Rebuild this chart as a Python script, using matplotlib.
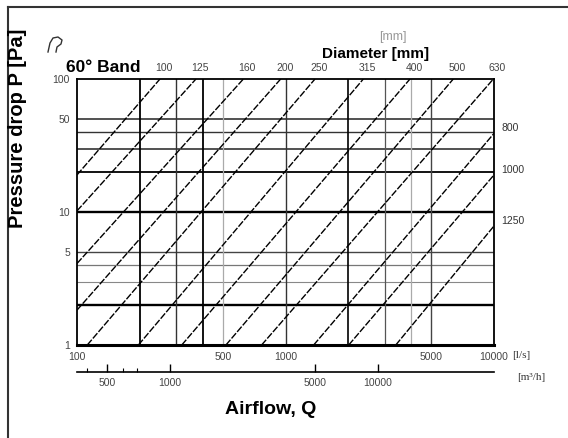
import matplotlib
matplotlib.use("Agg")
import matplotlib.pyplot as plt
from matplotlib.lines import Line2D

W, H = 568, 438
SANS = ["Liberation Sans", "DejaVu Sans"]
SERIF = ["Liberation Serif", "DejaVu Serif"]

diameters = [100, 125, 160, 200, 250, 315, 400, 500, 630, 800, 1000, 1250]
q_start = [100, 100, 100, 100, 112, 197, 318, 518, 768, 1365, 2010, 3380]   # l/s
p_start = [19, 10.2, 4.1, 1.83, 1, 1, 1, 1, 1, 1, 1, 1]                     # Pa
q_end = [250, 372, 628, 948, 1385, 2362, 3954, 6379, 9930, 10000, 10000, 10000]
p_end = [100, 100, 100, 100, 100, 100, 100, 100, 100, 39, 19, 7.85]

# grid lines of the nomogram
h_vals = [2, 3, 4, 5, 10, 20, 30, 40, 50]
h_lw = [1.7, 0.8, 0.9, 1.0, 1.7, 1.3, 1.1, 1.0, 1.2]
h_col = ["black", "#888", "#777", "#444", "black", "black", "#222", "#333", "#333"]
v_vals = [200, 300, 400, 500, 1000, 2000, 3000, 4000, 5000]
v_lw = [1.3, 1.0, 1.3, 0.9, 1.0, 1.2, 0.9, 0.9, 1.0]
v_col = ["black", "#333", "black", "#aaa", "#333", "black", "#555", "#aaa", "#444"]

x_ticks = [100, 500, 1000, 5000, 10000]
y_ticks = [1, 5, 10, 50, 100]
m3h_major = [500, 1000, 5000, 10000]
m3h_minor = [400, 600, 700]


def fx(px):
    return px / W


def fy(py):
    return 1 - py / H


fig = plt.figure(figsize=(W / 100, H / 100), dpi=100)
ax = fig.add_axes([fx(77), fy(345), fx(494) - fx(77), fy(79) - fy(345)])
ax.set_xscale("log")
ax.set_yscale("log")
ax.set_xlim(100, 10000)
ax.set_ylim(1, 100)

for v, lw, c in zip(h_vals, h_lw, h_col):
    ax.axhline(v, color=c, lw=lw, zorder=1)
for v, lw, c in zip(v_vals, v_lw, v_col):
    ax.axvline(v, color=c, lw=lw, zorder=1)

for d, qs, ps, qe, pe in zip(diameters, q_start, p_start, q_end, p_end):
    ax.plot([qs, qe], [ps, pe], color="black", lw=1.0,
            linestyle=(0, (5, 1.2)), zorder=2, clip_on=True)
    if pe >= 100:
        ax.annotate(str(d), (qe, 100), xytext=(4, 11), textcoords="offset pixels",
                    ha="center", va="center", fontsize=7.5, color="#444",
                    family=SANS, annotation_clip=False)
    else:
        ax.annotate(str(d), (10000, pe), xytext=(7, 5), textcoords="offset pixels",
                    ha="left", va="center", fontsize=7.5, color="#333",
                    family=SANS, annotation_clip=False)

for s in ["top", "left", "right"]:
    ax.spines[s].set_linewidth(1.3)
ax.spines["bottom"].set_linewidth(2.2)

ax.set_xticks(x_ticks)
ax.set_xticklabels([str(t) for t in x_ticks])
ax.set_yticks(y_ticks)
ax.set_yticklabels([str(t) for t in y_ticks])
ax.minorticks_off()
ax.tick_params(length=0, labelsize=7.5, labelcolor="#444")
ax.tick_params(axis="y", pad=5)
ax.tick_params(axis="x", pad=5)
for lab in ax.get_xticklabels() + ax.get_yticklabels():
    lab.set_family(SANS)

# second airflow scale in m3/h
sec = ax.secondary_xaxis(-0.1015, functions=(lambda q: q * 3.6, lambda m: m / 3.6))
sec.spines["bottom"].set_linewidth(1.2)
sec.set_xticks(m3h_major)
sec.set_xticklabels([str(t) for t in m3h_major])
sec.set_xticks(m3h_minor, minor=True)
sec.xaxis.set_minor_formatter(plt.NullFormatter())
sec.tick_params(which="major", direction="in", length=6, width=1, labelsize=7.5,
                labelcolor="#444", pad=4)
sec.tick_params(which="minor", direction="in", length=3, width=0.8)
for lab in sec.get_xticklabels():
    lab.set_family(SANS)

# texts
fig.text(fx(18), fy(128), "Pressure drop P [Pa]", rotation=90, ha="center", va="center",
         fontsize=14.5, fontweight="bold", family=SANS)
fig.text(fx(103), fy(67), "60° Band", ha="center", va="center",
         fontsize=12.5, fontweight="bold", family=SANS)
fig.text(fx(376), fy(54), "Diameter [mm]", ha="center", va="center",
         fontsize=11, fontweight="bold", family=SANS)
fig.text(fx(393), fy(37), "[mm]", ha="center", va="center",
         fontsize=9, color="#999", family=SANS)
fig.text(fx(271), fy(409), "Airflow, Q", ha="center", va="center",
         fontsize=14, fontweight="bold", family=SANS)
fig.text(fx(512), fy(355), "[l/s]", ha="left", va="center",
         fontsize=8, color="#333", family=SERIF)
fig.text(fx(517), fy(377), "[m³/h]", ha="left", va="center",
         fontsize=8, color="#333", family=SERIF)

# small bend symbol
bx = [48, 50, 53, 58, 62, 61, 57, 56]
by = [52, 43, 38, 37, 40, 44, 47, 52]
fig.add_artist(Line2D([fx(x) for x in bx], [fy(y) for y in by],
                      transform=fig.transFigure, color="#333", lw=1))

# page frame
fig.add_artist(Line2D([fx(7.5), fx(7.5)], [fy(438), fy(7)],
                      transform=fig.transFigure, color="#333", lw=1.5))
fig.add_artist(Line2D([fx(7.5), fx(568)], [fy(7), fy(7)],
                      transform=fig.transFigure, color="#333", lw=1.5))

fig.savefig("out.png", dpi=100)
